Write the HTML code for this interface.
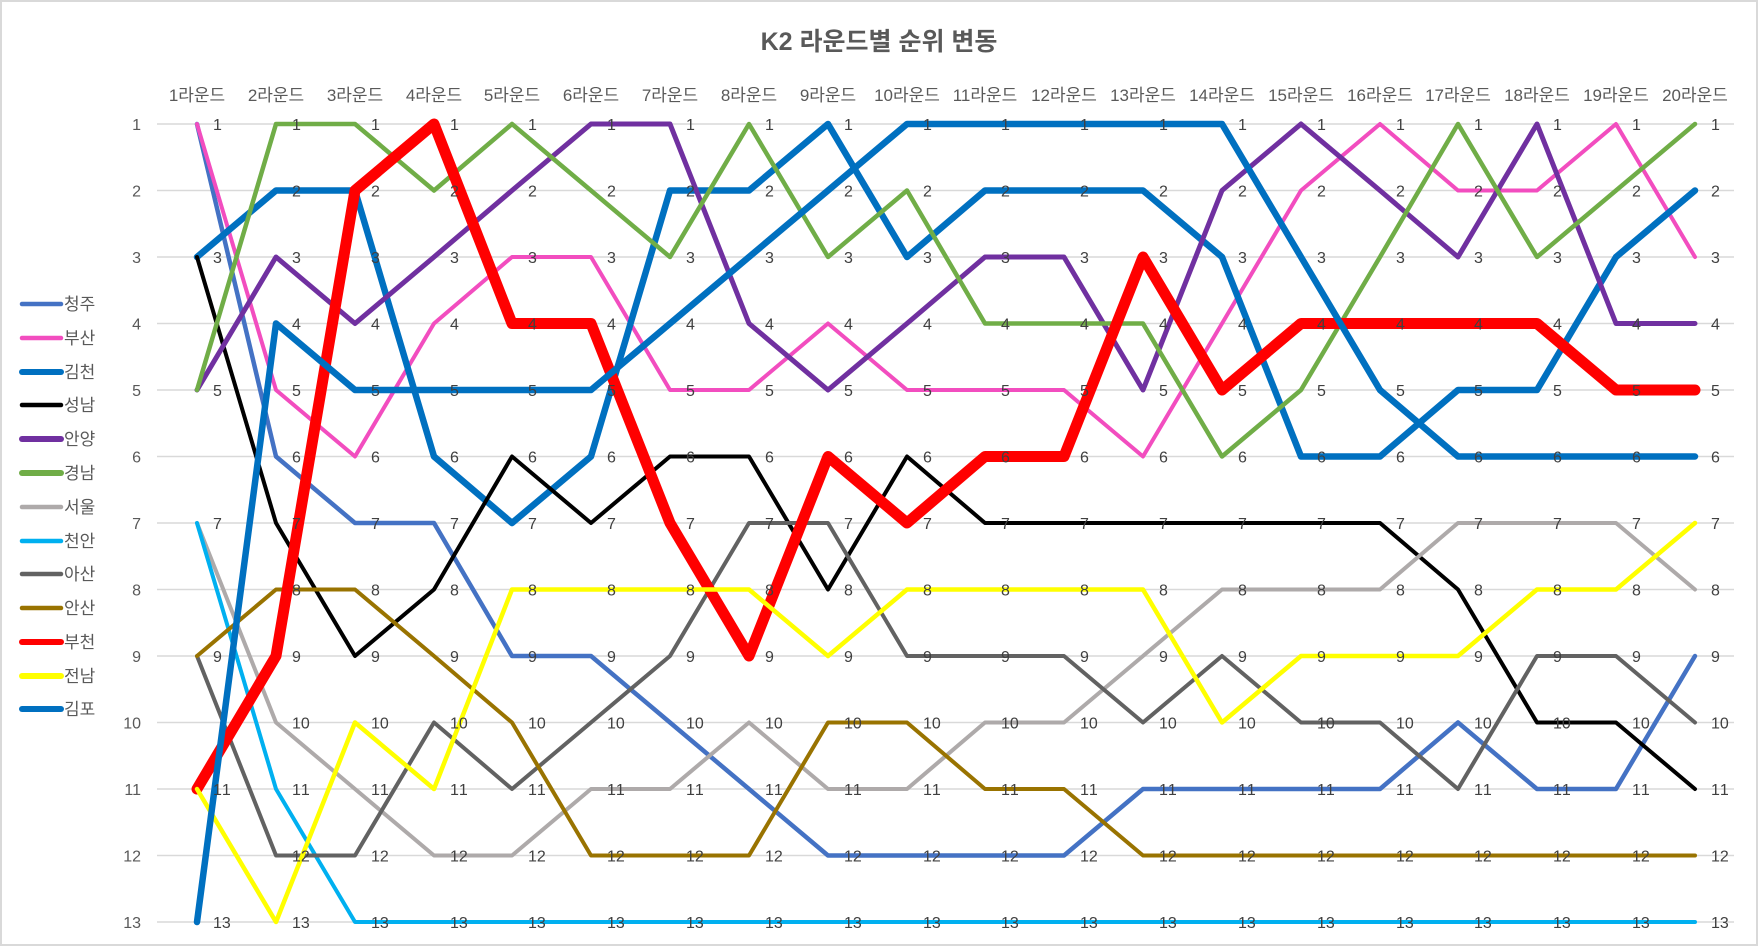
<!DOCTYPE html>
<html><head><meta charset="utf-8"><style>
html,body{margin:0;padding:0;background:#fff}
svg{display:block}
text{font-family:"Liberation Sans","Noto Sans CJK KR",sans-serif}
</style></head><body>
<svg width="1758" height="946" viewBox="0 0 1758 946" xmlns="http://www.w3.org/2000/svg">
<rect x="1" y="1" width="1756" height="944" fill="#fff" stroke="#d9d9d9" stroke-width="2"/>
<text x="879" y="50" text-anchor="middle" font-size="25" font-weight="bold" fill="#595959">K2 라운드별 순위 변동</text>
<g stroke="#d9d9d9" stroke-width="1.5">
<line x1="157" x2="1734" y1="124" y2="124"/><line x1="157" x2="1734" y1="190.5" y2="190.5"/><line x1="157" x2="1734" y1="257" y2="257"/><line x1="157" x2="1734" y1="323.5" y2="323.5"/><line x1="157" x2="1734" y1="390" y2="390"/><line x1="157" x2="1734" y1="456.5" y2="456.5"/><line x1="157" x2="1734" y1="523" y2="523"/><line x1="157" x2="1734" y1="589.5" y2="589.5"/><line x1="157" x2="1734" y1="656" y2="656"/><line x1="157" x2="1734" y1="722.5" y2="722.5"/><line x1="157" x2="1734" y1="789" y2="789"/><line x1="157" x2="1734" y1="855.5" y2="855.5"/><line x1="157" x2="1734" y1="922" y2="922"/>
</g>
<g font-size="16" fill="#595959" text-anchor="end">
<text x="141" y="130">1</text><text x="141" y="196.5">2</text><text x="141" y="263">3</text><text x="141" y="329.5">4</text><text x="141" y="396">5</text><text x="141" y="462.5">6</text><text x="141" y="529">7</text><text x="141" y="595.5">8</text><text x="141" y="662">9</text><text x="141" y="728.5">10</text><text x="141" y="795">11</text><text x="141" y="861.5">12</text><text x="141" y="928">13</text>
</g>
<g font-size="17" fill="#595959" text-anchor="middle">
<text x="197" y="101">1라운드</text><text x="276" y="101">2라운드</text><text x="355" y="101">3라운드</text><text x="434" y="101">4라운드</text><text x="512" y="101">5라운드</text><text x="591" y="101">6라운드</text><text x="670" y="101">7라운드</text><text x="749" y="101">8라운드</text><text x="828" y="101">9라운드</text><text x="907" y="101">10라운드</text><text x="985" y="101">11라운드</text><text x="1064" y="101">12라운드</text><text x="1143" y="101">13라운드</text><text x="1222" y="101">14라운드</text><text x="1301" y="101">15라운드</text><text x="1380" y="101">16라운드</text><text x="1458" y="101">17라운드</text><text x="1537" y="101">18라운드</text><text x="1616" y="101">19라운드</text><text x="1695" y="101">20라운드</text>
</g>
<g fill="none" stroke-linejoin="round" stroke-linecap="round">
<polyline stroke="#4472C4" stroke-width="4.5" points="197,124 276,456.5 355,523 434,523 512,656 591,656 670,722.5 749,789 828,855.5 907,855.5 985,855.5 1064,855.5 1143,789 1222,789 1301,789 1380,789 1458,722.5 1537,789 1616,789 1695,656"/>
<polyline stroke="#F24DBF" stroke-width="4" points="197,124 276,390 355,456.5 434,323.5 512,257 591,257 670,390 749,390 828,323.5 907,390 985,390 1064,390 1143,456.5 1222,323.5 1301,190.5 1380,124 1458,190.5 1537,190.5 1616,124 1695,257"/>
<polyline stroke="#0070C0" stroke-width="6.5" points="197,257 276,190.5 355,190.5 434,456.5 512,523 591,456.5 670,190.5 749,190.5 828,124 907,257 985,190.5 1064,190.5 1143,190.5 1222,257 1301,456.5 1380,456.5 1458,390 1537,390 1616,257 1695,190.5"/>
<polyline stroke="#000000" stroke-width="4" points="197,257 276,523 355,656 434,589.5 512,456.5 591,523 670,456.5 749,456.5 828,589.5 907,456.5 985,523 1064,523 1143,523 1222,523 1301,523 1380,523 1458,589.5 1537,722.5 1616,722.5 1695,789"/>
<polyline stroke="#7030A0" stroke-width="5" points="197,390 276,257 355,323.5 434,257 512,190.5 591,124 670,124 749,323.5 828,390 907,323.5 985,257 1064,257 1143,390 1222,190.5 1301,124 1380,190.5 1458,257 1537,124 1616,323.5 1695,323.5"/>
<polyline stroke="#70AD47" stroke-width="4.5" points="197,390 276,124 355,124 434,190.5 512,124 591,190.5 670,257 749,124 828,257 907,190.5 985,323.5 1064,323.5 1143,323.5 1222,456.5 1301,390 1380,257 1458,124 1537,257 1616,190.5 1695,124"/>
<polyline stroke="#AEAAAA" stroke-width="4" points="197,523 276,722.5 355,789 434,855.5 512,855.5 591,789 670,789 749,722.5 828,789 907,789 985,722.5 1064,722.5 1143,656 1222,589.5 1301,589.5 1380,589.5 1458,523 1537,523 1616,523 1695,589.5"/>
<polyline stroke="#00B0F0" stroke-width="4" points="197,523 276,789 355,922 434,922 512,922 591,922 670,922 749,922 828,922 907,922 985,922 1064,922 1143,922 1222,922 1301,922 1380,922 1458,922 1537,922 1616,922 1695,922"/>
<polyline stroke="#626262" stroke-width="4" points="197,656 276,855.5 355,855.5 434,722.5 512,789 591,722.5 670,656 749,523 828,523 907,656 985,656 1064,656 1143,722.5 1222,656 1301,722.5 1380,722.5 1458,789 1537,656 1616,656 1695,722.5"/>
<polyline stroke="#997300" stroke-width="4" points="197,656 276,589.5 355,589.5 434,656 512,722.5 591,855.5 670,855.5 749,855.5 828,722.5 907,722.5 985,789 1064,789 1143,855.5 1222,855.5 1301,855.5 1380,855.5 1458,855.5 1537,855.5 1616,855.5 1695,855.5"/>
<polyline stroke="#FF0000" stroke-width="11" points="197,789 276,656 355,190.5 434,124 512,323.5 591,323.5 670,523 749,656 828,456.5 907,523 985,456.5 1064,456.5 1143,257 1222,390 1301,323.5 1380,323.5 1458,323.5 1537,323.5 1616,390 1695,390"/>
<polyline stroke="#FFFF00" stroke-width="4.5" points="197,789 276,922 355,722.5 434,789 512,589.5 591,589.5 670,589.5 749,589.5 828,656 907,589.5 985,589.5 1064,589.5 1143,589.5 1222,722.5 1301,656 1380,656 1458,656 1537,589.5 1616,589.5 1695,523"/>
<polyline stroke="#0070C0" stroke-width="6.5" points="197,922 276,323.5 355,390 434,390 512,390 591,390 670,323.5 749,257 828,190.5 907,124 985,124 1064,124 1143,124 1222,124 1301,257 1380,390 1458,456.5 1537,456.5 1616,456.5 1695,456.5"/>
</g>
<g font-size="16" fill="#404040">
<text y="130" x="213 292 371 450 528 607 686 765 844 923 1001 1080 1159 1238 1317 1396 1474 1553 1632 1711">11111111111111111111</text>
<text y="196.5" x="292 371 450 528 607 686 765 844 923 1001 1080 1159 1238 1317 1396 1474 1553 1632 1711">2222222222222222222</text>
<text y="263" x="213 292 371 450 528 607 686 765 844 923 1001 1080 1159 1238 1317 1396 1474 1553 1632 1711">33333333333333333333</text>
<text y="329.5" x="292 371 450 528 607 686 765 844 923 1001 1080 1159 1238 1317 1396 1474 1553 1632 1711">4444444444444444444</text>
<text y="396" x="213 292 371 450 528 607 686 765 844 923 1001 1080 1159 1238 1317 1396 1474 1553 1632 1711">55555555555555555555</text>
<text y="462.5" x="292 371 450 528 607 686 765 844 923 1001 1080 1159 1238 1317 1396 1474 1553 1632 1711">6666666666666666666</text>
<text y="529" x="213 292 371 450 528 607 686 765 844 923 1001 1080 1159 1238 1317 1396 1474 1553 1632 1711">77777777777777777777</text>
<text y="595.5" x="292 371 450 528 607 686 765 844 923 1001 1080 1159 1238 1317 1396 1474 1553 1632 1711">8888888888888888888</text>
<text y="662" x="213 292 371 450 528 607 686 765 844 923 1001 1080 1159 1238 1317 1396 1474 1553 1632 1711">99999999999999999999</text>
<text y="728.5" x="292 300.9 371 379.9 450 458.9 528 536.9 607 615.9 686 694.9 765 773.9 844 852.9 923 931.9 1001 1009.9 1080 1088.9 1159 1167.9 1238 1246.9 1317 1325.9 1396 1404.9 1474 1482.9 1553 1561.9 1632 1640.9 1711 1719.9">10101010101010101010101010101010101010</text>
<text y="795" x="213 221.9 292 300.9 371 379.9 450 458.9 528 536.9 607 615.9 686 694.9 765 773.9 844 852.9 923 931.9 1001 1009.9 1080 1088.9 1159 1167.9 1238 1246.9 1317 1325.9 1396 1404.9 1474 1482.9 1553 1561.9 1632 1640.9 1711 1719.9">1111111111111111111111111111111111111111</text>
<text y="861.5" x="292 300.9 371 379.9 450 458.9 528 536.9 607 615.9 686 694.9 765 773.9 844 852.9 923 931.9 1001 1009.9 1080 1088.9 1159 1167.9 1238 1246.9 1317 1325.9 1396 1404.9 1474 1482.9 1553 1561.9 1632 1640.9 1711 1719.9">12121212121212121212121212121212121212</text>
<text y="928" x="213 221.9 292 300.9 371 379.9 450 458.9 528 536.9 607 615.9 686 694.9 765 773.9 844 852.9 923 931.9 1001 1009.9 1080 1088.9 1159 1167.9 1238 1246.9 1317 1325.9 1396 1404.9 1474 1482.9 1553 1561.9 1632 1640.9 1711 1719.9">1313131313131313131313131313131313131313</text>
</g>
<g stroke-linecap="round" fill="none">
<line x1="22" x2="61" y1="304" y2="304" stroke="#4472C4" stroke-width="4.5"/>
<line x1="22" x2="61" y1="338" y2="338" stroke="#F24DBF" stroke-width="4.5"/>
<line x1="22" x2="61" y1="372" y2="372" stroke="#0070C0" stroke-width="6"/>
<line x1="22" x2="61" y1="405" y2="405" stroke="#000000" stroke-width="4.5"/>
<line x1="22" x2="61" y1="439" y2="439" stroke="#7030A0" stroke-width="6"/>
<line x1="22" x2="61" y1="473" y2="473" stroke="#70AD47" stroke-width="6"/>
<line x1="22" x2="61" y1="507" y2="507" stroke="#AEAAAA" stroke-width="4.5"/>
<line x1="22" x2="61" y1="541" y2="541" stroke="#00B0F0" stroke-width="4.5"/>
<line x1="22" x2="61" y1="574" y2="574" stroke="#626262" stroke-width="4.5"/>
<line x1="22" x2="61" y1="608" y2="608" stroke="#997300" stroke-width="4.5"/>
<line x1="22" x2="61" y1="642" y2="642" stroke="#FF0000" stroke-width="6"/>
<line x1="22" x2="61" y1="676" y2="676" stroke="#FFFF00" stroke-width="6"/>
<line x1="22" x2="61" y1="709" y2="709" stroke="#0070C0" stroke-width="6"/>
</g>
<g font-size="17" fill="#595959">
<text x="64" y="310">청주</text><text x="64" y="344">부산</text><text x="64" y="378">김천</text><text x="64" y="411">성남</text><text x="64" y="445">안양</text><text x="64" y="479">경남</text><text x="64" y="513">서울</text><text x="64" y="547">천안</text><text x="64" y="580">아산</text><text x="64" y="614">안산</text><text x="64" y="648">부천</text><text x="64" y="682">전남</text><text x="64" y="715">김포</text>
</g>
</svg>
</body></html>
